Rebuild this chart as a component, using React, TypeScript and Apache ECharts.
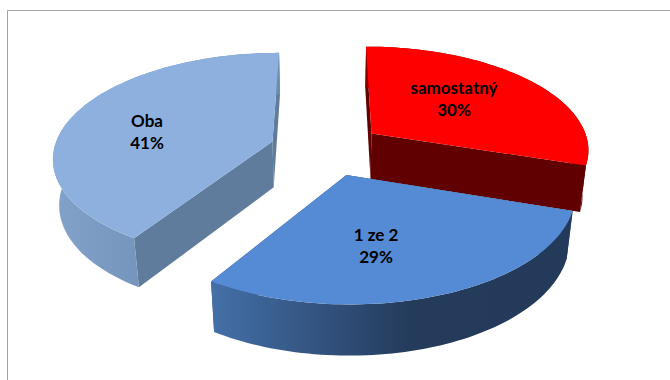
import React, { useEffect, useRef } from "react";
import * as echarts from "echarts";

// Slice shares in percent, clockwise from twelve o'clock.
const categories = ["samostatný", "1 ze 2", "Oba"];
const shares = [30, 29, 41];

// Surface colours of each slice.
const topColors = ["#ff0000", "#558bd4", "#8db0de"];
const cutFaceColors = ["#600000", "#2b4a73", "#5f7c9c"];
const rimStops: [string, string, string][] = [
  ["#8a0000", "#700000", "#600000"],
  ["#4470a8", "#243b5c", "#233a5a"],
  ["#83a2ca", "#6f8fb6", "#6c8cb2"],
];

// Paint order: the nearest slice is drawn last.
const paintRank = [1, 2, 0];

// Tilted-disc projection of the exploded pie.
const CENTER_X = 326.5;
const CENTER_Y = 149;
const SCALE = 218.5;
const TILT = 0.472;
const FORESHORTEN = 0.14;
const DEPTH_DROP = 47;
const DEPTH_SHRINK = 0.023;
const EXPLODE = 0.26;
const ARC_STEPS = 72;

const LABEL_CENTERS: [number, number][] = [
  [454, 98],
  [376, 245],
  [147, 131],
];

const FONT = "bold 17px Lato, 'Noto Sans', sans-serif";
const BORDER_COLOR = "#a3a3a3";

function project(planeX: number, planeY: number, level: number): number[] {
  const d = 1 - planeY * FORESHORTEN + level * DEPTH_SHRINK;
  return [
    CENTER_X + (planeX * SCALE) / d,
    CENTER_Y + (planeY * TILT * SCALE + level * DEPTH_DROP) / d,
  ];
}

function renderSlice(params: any, api: any) {
  const i = params.dataIndex;
  const total = shares.reduce((a, b) => a + b, 0);
  const before = shares.slice(0, i).reduce((a, b) => a + b, 0);
  const a0 = (before / total) * Math.PI * 2;
  const a1 = a0 + (Number(api.value(0)) / total) * Math.PI * 2;
  const mid = (a0 + a1) / 2;
  const ox = EXPLODE * Math.sin(mid);
  const oy = -EXPLODE * Math.cos(mid);
  const rim = (a: number, level: number) =>
    project(ox + Math.sin(a), oy - Math.cos(a), level);
  const apex = (level: number) => project(ox, oy, level);

  const topArc: number[][] = [];
  const lowArc: number[][] = [];
  for (let k = 0; k <= ARC_STEPS; k++) {
    const a = a0 + ((a1 - a0) * k) / ARC_STEPS;
    topArc.push(rim(a, 0));
    lowArc.push(rim(a, 1));
  }

  const base = paintRank[i] * 10;
  const stops = rimStops[i];
  const rimFill = new echarts.graphic.LinearGradient(0, 0, 1, 0, [
    { offset: 0, color: stops[0] },
    { offset: 0.55, color: stops[1] },
    { offset: 1, color: stops[2] },
  ]);
  const face = (a: number) => ({
    type: "polygon",
    z2: base,
    shape: { points: [apex(0), rim(a, 0), rim(a, 1), apex(1)] },
    style: { fill: cutFaceColors[i] },
  });
  const [lx, ly] = LABEL_CENTERS[i];

  return {
    type: "group",
    children: [
      face(a0),
      face(a1),
      {
        type: "polygon",
        z2: base + 1,
        shape: { points: [...topArc, ...lowArc.slice().reverse()] },
        style: { fill: rimFill },
      },
      {
        type: "polygon",
        z2: base + 2,
        shape: { points: [apex(0), ...topArc] },
        style: { fill: topColors[i] },
      },
      {
        type: "text",
        z2: 100,
        x: lx,
        y: ly,
        style: {
          text: `${categories[i]}\n${shares[i]}%`,
          font: FONT,
          lineHeight: 22,
          fill: "#000000",
          align: "center",
          verticalAlign: "middle",
        },
      },
    ],
  };
}

export default function App() {
  const ref = useRef<HTMLDivElement>(null);
  useEffect(() => {
    const chart = echarts.init(ref.current!, null, { renderer: "svg" });
    chart.setOption({
      animation: false,
      backgroundColor: "#ffffff",
      graphic: [
        {
          type: "polyline",
          silent: true,
          shape: {
            points: [
              [7.5, 380],
              [7.5, 10.5],
              [670, 10.5],
            ],
          },
          style: { stroke: BORDER_COLOR, lineWidth: 1, fill: "none" },
        },
      ],
      series: [
        {
          type: "custom",
          coordinateSystem: "none",
          renderItem: renderSlice,
          data: shares,
          silent: true,
        },
      ],
    });
    return () => chart.dispose();
  }, []);
  return (
    <div
      ref={ref}
      style={{ position: "absolute", left: 0, top: 0, width: 670, height: 380 }}
    />
  );
}
